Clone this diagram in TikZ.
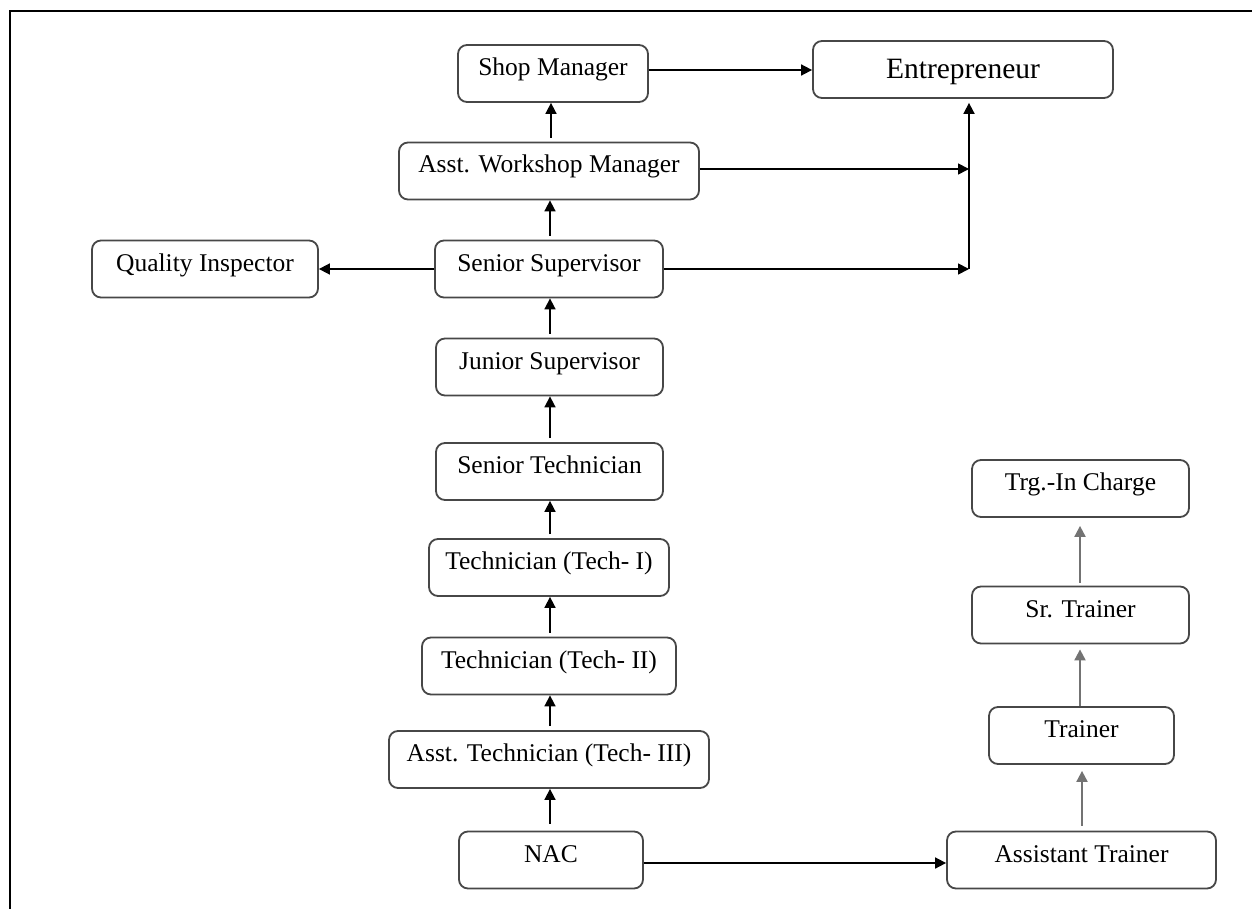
\documentclass[tikz,border=0pt]{standalone}
\usepackage{fontspec}
\setmainfont{Liberation Serif}
\usetikzlibrary{arrows.meta}
\begin{document}
\begin{tikzpicture}[x=1pt,y=-1pt,
  box/.style={draw=black!72, line width=1.8pt, rounded corners=9pt, inner sep=0pt,
    minimum height=57pt, font=\fontsize{25.5}{30}\selectfont, text height=14pt, text depth=10pt},
  bigbox/.style={box, font=\fontsize{29.5}{34}\selectfont, text height=19pt, text depth=0pt},
  arr/.style={line width=1.7pt, -{Triangle[length=11pt,width=11pt]}},
  garr/.style={arr, draw=black!55, fill=black!55, line width=2pt},
]
\useasboundingbox (0,0) rectangle (1252,909);
\fill[white] (0,0) rectangle (1252,909);
\draw[line width=2.6pt] (10,909) -- (10,11) -- (1252,11);

\node[box, minimum width=190pt] (shop) at (553,73.5) {Shop Manager};
\node[bigbox, minimum width=300pt] (entr) at (963,69.5) {Entrepreneur};
\node[box, minimum width=300pt] (awm) at (549,171) {Asst. Workshop Manager};
\node[box, minimum width=228pt] (ss) at (549,269) {Senior Supervisor};
\node[box, minimum width=226pt] (qi) at (205,269) {Quality Inspector};
\node[box, minimum width=227pt] (js) at (549.5,367) {Junior Supervisor};
\node[box, minimum width=227pt] (st) at (549.5,471.5) {Senior Technician};
\node[box, minimum width=240pt] (t1) at (549,567.5) {Technician (Tech- I)};
\node[box, minimum width=254pt] (t2) at (549,666) {Technician (Tech- II)};
\node[box, minimum width=320pt] (t3) at (549,759.5) {Asst. Technician (Tech- III)};
\node[box, minimum width=184pt] (nac) at (551,860) {NAC};
\node[box, minimum width=269pt] (atr) at (1081.5,860) {Assistant Trainer};
\node[box, minimum width=185pt] (tr) at (1081.5,735.5) {Trainer};
\node[box, minimum width=217pt] (sr) at (1080.5,615) {Sr. Trainer};
\node[box, minimum width=217pt] (trg) at (1080.5,488.5) {Trg.-In Charge};

\coordinate (j1) at (969,169);
\coordinate (j2) at (969,269);

% main column
\draw[arr, shorten <=4pt] (awm.north -| 551,0) -- (shop.south -| 551,0);
\draw[arr, shorten <=4pt] (ss.north -| 550,0) -- (awm.south -| 550,0);
\draw[arr, shorten <=4pt] (js.north -| 550,0) -- (ss.south -| 550,0);
\draw[arr, shorten <=4pt] (st.north -| 550,0) -- (js.south -| 550,0);
\draw[arr, shorten <=4pt] (t1.north -| 550,0) -- (st.south -| 550,0);
\draw[arr, shorten <=4pt] (t2.north -| 550,0) -- (t1.south -| 550,0);
\draw[arr, shorten <=4pt] (t3.north -| 550,0) -- (t2.south -| 550,0);
\draw[arr, shorten <=7pt] (nac.north -| 550,0) -- (t3.south -| 550,0);

% to entrepreneur
\draw[arr] (shop.east |- 0,70) -- (entr.west |- 0,70);
\draw[arr] (awm.east |- j1) -- (j1);
\draw[arr] (ss.east) -- (j2);
\draw[arr, shorten >=4pt] (j2) -- (j2 |- entr.south);
\draw[arr] (ss.west) -- (qi.east);

% trainer path
\draw[arr] (nac.east |- 0,863) -- (atr.west |- 0,863);
\draw[garr, shorten <=5pt, shorten >=6pt] (atr.north -| 1082,0) -- (tr.south -| 1082,0);
\draw[garr, shorten >=5pt] (tr.north -| 1080,0) -- (sr.south -| 1080,0);
\draw[garr, shorten <=3pt, shorten >=8pt] (sr.north -| 1080,0) -- (trg.south -| 1080,0);
\end{tikzpicture}
\end{document}
